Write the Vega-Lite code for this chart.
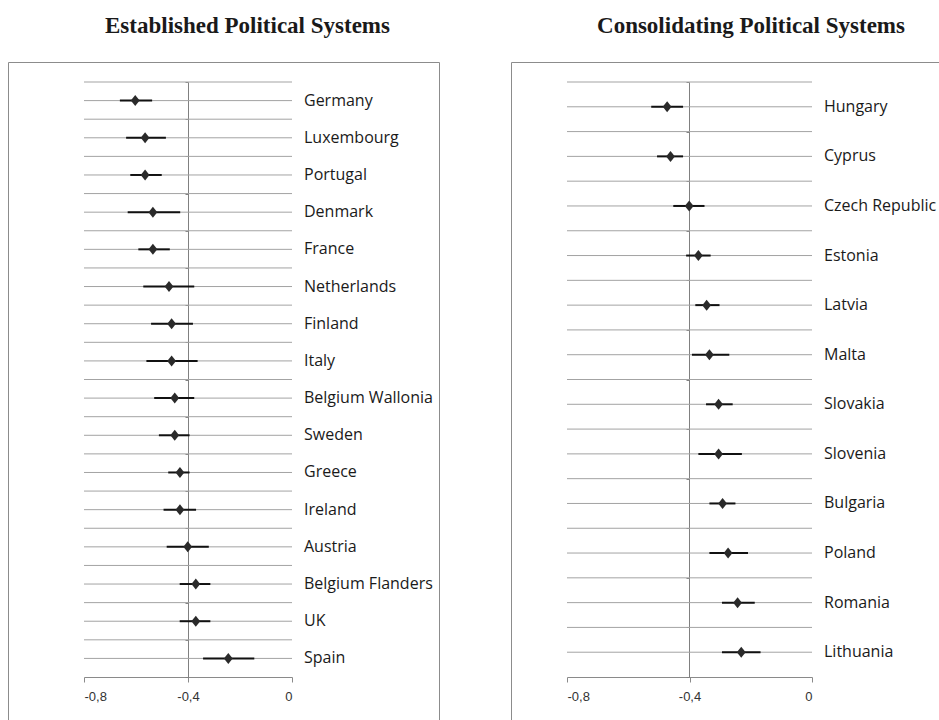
{
  "$schema": "https://vega.github.io/schema/vega-lite/v6.json",
  "padding": {"left": 7, "top": 14, "right": 1, "bottom": -10},
  "background": "white",
  "bounds": "flush",
  "spacing": 72,
  "datasets": {
    "established": [
      {"country": "Germany", "est": -0.603, "lo": -0.662, "hi": -0.538},
      {"country": "Luxembourg", "est": -0.565, "lo": -0.638, "hi": -0.485},
      {"country": "Portugal", "est": -0.565, "lo": -0.622, "hi": -0.501},
      {"country": "Denmark", "est": -0.535, "lo": -0.632, "hi": -0.43},
      {"country": "France", "est": -0.535, "lo": -0.591, "hi": -0.47},
      {"country": "Netherlands", "est": -0.473, "lo": -0.572, "hi": -0.376},
      {"country": "Finland", "est": -0.463, "lo": -0.542, "hi": -0.381},
      {"country": "Italy", "est": -0.463, "lo": -0.56, "hi": -0.363},
      {"country": "Belgium Wallonia", "est": -0.451, "lo": -0.53, "hi": -0.376},
      {"country": "Sweden", "est": -0.451, "lo": -0.512, "hi": -0.394},
      {"country": "Greece", "est": -0.431, "lo": -0.476, "hi": -0.394},
      {"country": "Ireland", "est": -0.431, "lo": -0.494, "hi": -0.369},
      {"country": "Austria", "est": -0.401, "lo": -0.482, "hi": -0.32},
      {"country": "Belgium Flanders", "est": -0.37, "lo": -0.432, "hi": -0.314},
      {"country": "UK", "est": -0.37, "lo": -0.432, "hi": -0.314},
      {"country": "Spain", "est": -0.245, "lo": -0.342, "hi": -0.145}
    ],
    "consolidating": [
      {"country": "Hungary", "est": -0.473, "lo": -0.525, "hi": -0.421},
      {"country": "Cyprus", "est": -0.462, "lo": -0.506, "hi": -0.421},
      {"country": "Czech Republic", "est": -0.401, "lo": -0.453, "hi": -0.351},
      {"country": "Estonia", "est": -0.371, "lo": -0.411, "hi": -0.331},
      {"country": "Latvia", "est": -0.344, "lo": -0.381, "hi": -0.302},
      {"country": "Malta", "est": -0.335, "lo": -0.392, "hi": -0.27},
      {"country": "Slovakia", "est": -0.305, "lo": -0.346, "hi": -0.259},
      {"country": "Slovenia", "est": -0.305, "lo": -0.371, "hi": -0.229},
      {"country": "Bulgaria", "est": -0.292, "lo": -0.335, "hi": -0.25},
      {"country": "Poland", "est": -0.274, "lo": -0.335, "hi": -0.209},
      {"country": "Romania", "est": -0.243, "lo": -0.294, "hi": -0.187},
      {"country": "Lithuania", "est": -0.231, "lo": -0.294, "hi": -0.168}
    ]
  },
  "hconcat": [
    {
      "title": {"text": "Established Political Systems", "dx": 24},
      "width": 431,
      "height": 668,
      "data": {"name": "established"},
      "layer": [
        {
          "mark": {"type": "rule", "color": "#a3a3a3", "strokeWidth": 1},
          "encoding": {
            "y": {
              "field": "country", "type": "nominal", "sort": null, "bandPosition": 0.5, "title": null,
              "scale": {"range": [20, 615], "paddingInner": 0, "paddingOuter": 0},
              "axis": {"offset": -180}
            },
            "x": {
              "datum": -0.8, "type": "quantitative", "title": null,
              "scale": {"domain": [-0.8, 0], "range": [76, 284], "nice": false, "zero": false},
              "axis": {"values": [-0.8, -0.4, 0], "offset": -53}
            },
            "x2": {"datum": 0}
          }
        },
        {
          "mark": {"type": "rule", "color": "#a3a3a3", "strokeWidth": 1},
          "encoding": {
            "y": {"field": "country", "type": "nominal", "sort": null, "bandPosition": 0, "title": null},
            "x": {"datum": -0.8, "type": "quantitative", "title": null},
            "x2": {"datum": 0}
          }
        },
        {
          "mark": {"type": "rule", "color": "#111111", "strokeWidth": 2, "strokeCap": "butt"},
          "encoding": {
            "y": {"field": "country", "type": "nominal", "sort": null, "title": null},
            "x": {"field": "lo", "type": "quantitative", "title": null},
            "x2": {"field": "hi"}
          }
        },
        {
          "mark": {"type": "point", "shape": "M -0.8 0 L 0 -1 L 0.8 0 L 0 1 Z", "size": 121, "filled": true, "color": "#2a2a2a", "opacity": 1},
          "encoding": {
            "y": {"field": "country", "type": "nominal", "sort": null, "title": null},
            "x": {"field": "est", "type": "quantitative", "title": null}
          }
        },
        {
          "mark": {"type": "text", "align": "left", "baseline": "middle", "dx": 12, "font": "Open Sans", "fontSize": 16, "color": "#1a1a1a"},
          "encoding": {
            "y": {"field": "country", "type": "nominal", "sort": null, "title": null},
            "x": {"datum": 0, "type": "quantitative", "title": null},
            "text": {"field": "country"}
          }
        }
      ]
    },
    {
      "title": {"text": "Consolidating Political Systems", "dx": 26},
      "width": 428,
      "height": 668,
      "data": {"name": "consolidating"},
      "layer": [
        {
          "mark": {"type": "rule", "color": "#a3a3a3", "strokeWidth": 1},
          "encoding": {
            "y": {
              "field": "country", "type": "nominal", "sort": null, "bandPosition": 0.5, "title": null,
              "scale": {"range": [20, 615], "paddingInner": 0, "paddingOuter": 0},
              "axis": {"offset": -178}
            },
            "x": {
              "datum": -0.8, "type": "quantitative", "title": null,
              "scale": {"domain": [-0.8, 0], "range": [56, 301], "nice": false, "zero": false},
              "axis": {"values": [-0.8, -0.4, 0], "offset": -53}
            },
            "x2": {"datum": 0}
          }
        },
        {
          "mark": {"type": "rule", "color": "#a3a3a3", "strokeWidth": 1},
          "encoding": {
            "y": {"field": "country", "type": "nominal", "sort": null, "bandPosition": 0, "title": null},
            "x": {"datum": -0.8, "type": "quantitative", "title": null},
            "x2": {"datum": 0}
          }
        },
        {
          "mark": {"type": "rule", "color": "#111111", "strokeWidth": 2, "strokeCap": "butt"},
          "encoding": {
            "y": {"field": "country", "type": "nominal", "sort": null, "title": null},
            "x": {"field": "lo", "type": "quantitative", "title": null},
            "x2": {"field": "hi"}
          }
        },
        {
          "mark": {"type": "point", "shape": "M -0.8 0 L 0 -1 L 0.8 0 L 0 1 Z", "size": 121, "filled": true, "color": "#2a2a2a", "opacity": 1},
          "encoding": {
            "y": {"field": "country", "type": "nominal", "sort": null, "title": null},
            "x": {"field": "est", "type": "quantitative", "title": null}
          }
        },
        {
          "mark": {"type": "text", "align": "left", "baseline": "middle", "dx": 12, "font": "Open Sans", "fontSize": 16, "color": "#1a1a1a"},
          "encoding": {
            "y": {"field": "country", "type": "nominal", "sort": null, "title": null},
            "x": {"datum": 0, "type": "quantitative", "title": null},
            "text": {"field": "country"}
          }
        }
      ]
    }
  ],
  "config": {
    "view": {"stroke": "#8c8c8c", "strokeWidth": 1},
    "title": {
      "font": "Liberation Serif", "fontSize": 23, "fontWeight": "bold", "color": "#1a1a1a",
      "anchor": "middle", "frame": "group", "baseline": "alphabetic", "offset": 24
    },
    "axisX": {
      "grid": false, "domainColor": "#8a8a8a", "domainWidth": 1,
      "tickColor": "#8a8a8a", "tickSize": 5, "tickWidth": 1,
      "labelFont": "Liberation Sans", "labelFontSize": 13, "labelColor": "#333333", "labelPadding": 8,
      "labelExpr": "datum.value === 0 ? '0' : '-0,' + round(-datum.value * 10)"
    },
    "axisY": {
      "grid": false, "labels": false, "domainColor": "#808080", "domainWidth": 1,
      "ticks": true, "tickBand": "extent", "tickColor": "#808080", "tickSize": 3, "tickWidth": 1
    }
  }
}
